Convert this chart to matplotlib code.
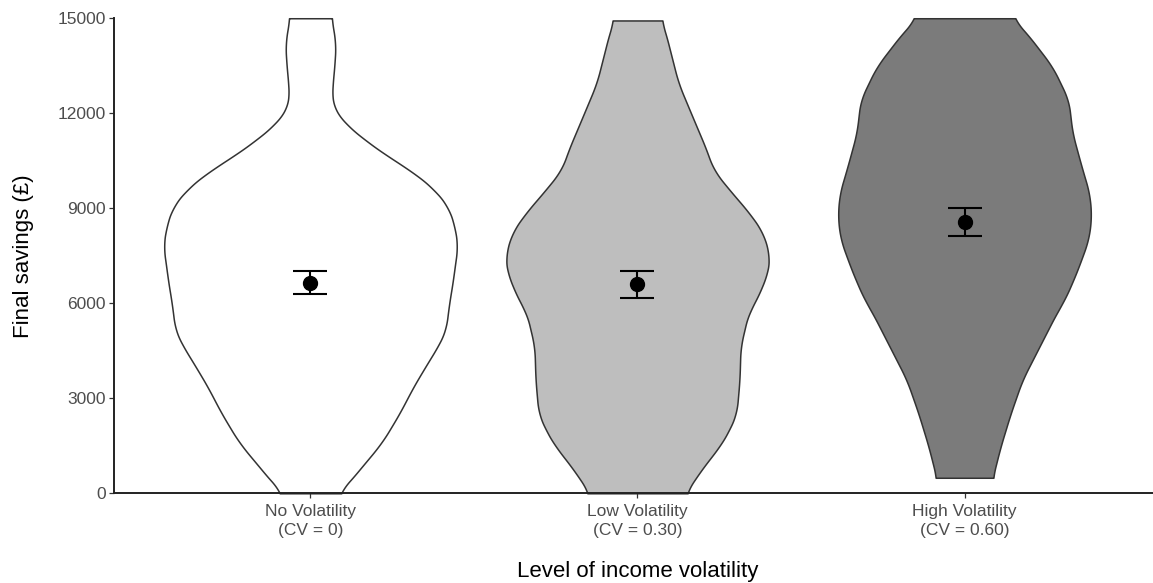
import numpy as np
import matplotlib
matplotlib.use("Agg")
import matplotlib.pyplot as plt

plt.rcParams['font.family'] = ['Liberation Sans', 'DejaVu Sans']

# groups on the x axis
categories = ["No Volatility\n(CV = 0)", "Low Volatility\n(CV = 0.30)", "High Volatility\n(CV = 0.60)"]
fills = ["#ffffff", "#bebebe", "#7b7b7b"]

# violin outlines: savings level and half-width (in category units)
no_vol_y = [0, 316, 950, 1580, 2105, 2630, 3260, 3790, 4315, 4735, 5160, 6000, 6740,
            7160, 7790, 8420, 9050, 9580, 10105, 10630, 11155, 11680, 12105, 12420,
            12840, 13600, 14220, 15000]
no_vol_w = [0.085, 0.115, 0.166, 0.217, 0.248, 0.278, 0.309, 0.339, 0.370, 0.395,
            0.414, 0.424, 0.436, 0.441, 0.450, 0.441, 0.421, 0.380, 0.319, 0.238,
            0.166, 0.105, 0.074, 0.066, 0.067, 0.074, 0.077, 0.064]

low_vol_y = [0, 840, 1470, 2000, 2520, 3580, 4630, 5680, 6110, 6950, 7470, 8210,
             8840, 9580, 10210, 10840, 11890, 12950, 14530, 14930]
low_vol_w = [0.147, 0.202, 0.251, 0.281, 0.303, 0.312, 0.315, 0.339, 0.364, 0.398,
             0.404, 0.385, 0.343, 0.281, 0.232, 0.211, 0.168, 0.125, 0.086, 0.073]

high_vol_y = [490, 1470, 2520, 3580, 4630, 5680, 6110, 6740, 7150, 8000, 8730, 9470,
              10310, 11370, 12420, 13470, 14530, 15000]
high_vol_w = [0.086, 0.110, 0.141, 0.177, 0.229, 0.281, 0.306, 0.333, 0.349, 0.379,
              0.388, 0.382, 0.358, 0.330, 0.318, 0.269, 0.190, 0.147]

# group means with error bars
means = [6650, 6600, 8577]
err_low = [6284, 6158, 8135]
err_high = [7020, 7020, 9000]

profiles = [(no_vol_y, no_vol_w), (low_vol_y, low_vol_w), (high_vol_y, high_vol_w)]

fig = plt.figure(figsize=(11.53, 5.83), dpi=100)
ax = fig.add_axes([0.0991, 0.1539, 0.9076, 0.8148])

for i, (vy, vw) in enumerate(profiles):
    pos = i + 1
    yy = np.linspace(vy[0], vy[-1], 600)
    ww = np.interp(yy, vy, vw)
    # light smoothing of the outline
    k = 15
    pad = np.pad(ww, k, mode='edge')
    ww = np.convolve(pad, np.ones(2 * k + 1) / (2 * k + 1), mode='same')[k:-k]
    ax.fill_betweenx(yy, pos - ww, pos + ww, facecolor=fills[i],
                     edgecolor='#333333', linewidth=1.1, clip_on=False, zorder=2)

x = np.arange(1, len(categories) + 1)
ax.errorbar(x, means,
            yerr=[np.array(means) - np.array(err_low), np.array(err_high) - np.array(means)],
            fmt='o', color='black', markersize=10, elinewidth=1.5, capsize=12,
            capthick=1.5, zorder=3)

ax.set_xlim(0.4, 3.6)
ax.set_ylim(0, 15000)
ax.set_yticks([0, 3000, 6000, 9000, 12000, 15000])
ax.set_xticks(x)
ax.set_xticklabels(categories, linespacing=1.33)

for side in ['top', 'right']:
    ax.spines[side].set_visible(False)
for side in ['left', 'bottom']:
    ax.spines[side].set_color('#222222')
    ax.spines[side].set_linewidth(1.4)

ax.tick_params(axis='both', colors='#333333', labelcolor='#4d4d4d',
               labelsize=12.5, length=3.5, width=0.9, pad=2.5)
ax.tick_params(axis='x', pad=4.5)

ax.set_xlabel("Level of income volatility", fontsize=16)
ax.set_ylabel("Final savings (£)", fontsize=16)
ax.xaxis.set_label_coords(0.5, -0.1425)
ax.yaxis.set_label_coords(-0.077, 0.5)

fig.savefig("out.png", dpi=100)
